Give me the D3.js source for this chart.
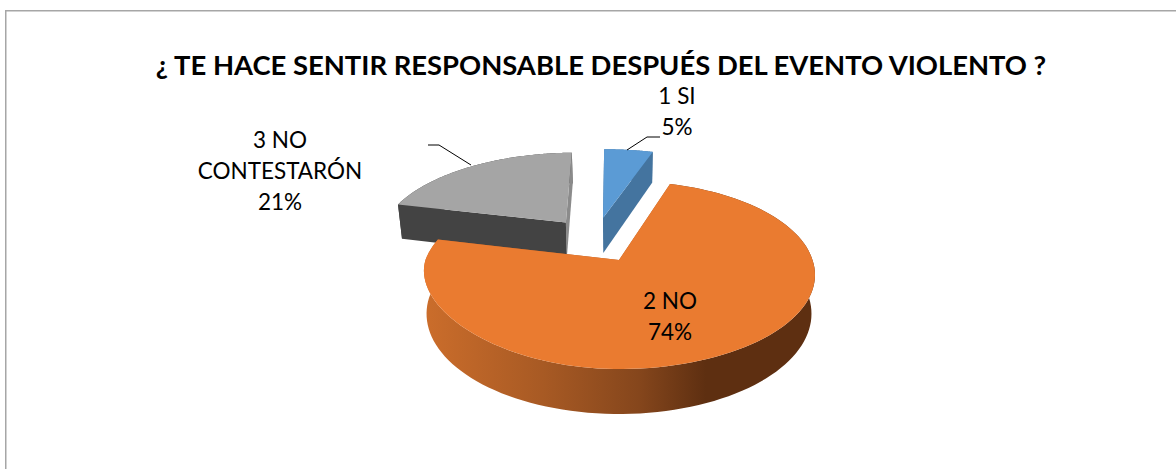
<!DOCTYPE html>
<html><head><meta charset="utf-8">
<script src="https://cdn.jsdelivr.net/npm/d3@7"></script>
<style>html,body{margin:0;padding:0;background:#fff;overflow:hidden}svg{display:block}text{font-family:Lato,Carlito,"Open Sans",sans-serif;fill:#000}</style>
</head><body><div id="c"></div>
<script>
const title = "¿ TE HACE SENTIR RESPONSABLE DESPUÉS DEL EVENTO VIOLENTO ?";
const categories = ["1 SI", "2 NO", "3 NO CONTESTARÓN"];
const values = [5, 74, 21];
const percentLabels = ["5%", "74%", "21%"];
const topColors = ["#5b9bd5", "#ea7b30", "#a5a5a5"];
const sideColors = ["#44749f", "#b25d25", "#434343"];
const endCutColors = ["#44749f", "#b25d25", "#8b8b8b"];

const W = 1176, H = 469;
const svg = d3.select("#c").append("svg").attr("width", W).attr("height", H);
const defs = svg.append("defs");
const g = defs.append("linearGradient").attr("id","og").attr("gradientUnits","userSpaceOnUse")
  .attr("x1",425).attr("x2",815).attr("y1",0).attr("y2",0);
[[0,"#cb6d2b"],[0.3,"#a85a24"],[0.55,"#85461c"],[0.72,"#5e2f11"],[1,"#5e2f11"]].forEach(s=>g.append("stop").attr("offset",s[0]).attr("stop-color",s[1]));

svg.append("rect").attr("x",5.75).attr("y",10.75).attr("width",1200).attr("height",480).attr("fill","#fff").attr("stroke","#a6a6a6").attr("stroke-width",1.5);

// projection of the tilted pie plane
const ox=619, oy=260, sx=193.5, sy=91.7, k=0.159, thick=37.8, centre=619.5, skew=0.025, bend=18;
function proj(x,y,z){
  const w=1-k*y;
  const Y0=oy+sy*y/w;
  const frontLeft=(x<0&&y>0&&z===0)?-x*Math.pow(y,1.5)*bend:0;
  const X=ox+sx*x/w+skew*Math.max(0,oy-Y0)+frontLeft, Y=Y0+z*thick/w;
  return [centre+(X-centre)*(1-0.018*z), Y];
}
const explode=0.266;
const rot=-1*Math.PI/180;
const arcs=d3.pie().sort(null).startAngle(rot).endAngle(rot+2*Math.PI)(values);
const line=d3.line();
const pt=(a,r)=>[r*Math.sin(a),-r*Math.cos(a)];
const layer=svg.append("g");

arcs.forEach(d=>{d.mid=(d.startAngle+d.endAngle)/2;
  // slice apex: orange slice apex is the projection origin
  const o=pt(arcs[1].startAngle/2+arcs[1].endAngle/2,explode);
  const m=pt(d.mid,explode);
  d.ax=m[0]-o[0]; d.ay=m[1]-o[1];
});
function rimPts(d,z){
  const n=120,out=[];
  for(let i=0;i<=n;i++){
    const a=d.startAngle+(d.endAngle-d.startAngle)*i/n;
    const p=pt(a,1); out.push(proj(d.ax+p[0],d.ay+p[1],z));
  }
  return out;
}
function draw(d,i){
  const top=rimPts(d,0), bot=rimPts(d,1);
  const A0=proj(d.ax,d.ay,0), A1=proj(d.ax,d.ay,1);
  const sg=layer.append("g").attr("class","slice-"+i);
  const side=i===1?"url(#og)":sideColors[i];
  // outer rim
  sg.append("path").attr("d",line(top.concat(bot.slice().reverse()))+"Z").attr("fill",side);
  // cut faces: the end cut of the grey slice is lighter and the start cut is dark
  sg.append("path").attr("d",line([A0,top[top.length-1],bot[bot.length-1],A1])+"Z").attr("fill",endCutColors[i]);
  sg.append("path").attr("d",line([A0,top[0],bot[0],A1])+"Z").attr("fill",sideColors[i]);
  // top face
  sg.append("path").attr("d",line([A0].concat(top))+"Z").attr("fill",topColors[i]);
}
[2,0,1].forEach(i=>draw(arcs[i],i));

// leader lines
const leaders=[[[627,150],[647,137],[660,137]],[[471,165],[439,145],[428,145]]];
svg.append("g").selectAll("path").data(leaders).join("path").attr("d",d=>line(d)).attr("fill","none").attr("stroke","#000").attr("stroke-width",1);

svg.append("text").attr("x",601).attr("y",75).attr("text-anchor","middle").attr("font-size",27.4).attr("font-weight",700).text(title);

const fs=22.5;
const labelLines=[[categories[0],percentLabels[0]],[categories[1],percentLabels[1]],["3 NO","CONTESTARÓN",percentLabels[2]]];
const labelPos=[[677,104],[670,309],[280,148]];
labelLines.forEach((ls,i)=>{
  ls.forEach((t,j)=>svg.append("text").attr("x",labelPos[i][0]).attr("y",labelPos[i][1]+j*31).attr("text-anchor","middle").attr("font-size",fs).text(t));
});
</script></body></html>
